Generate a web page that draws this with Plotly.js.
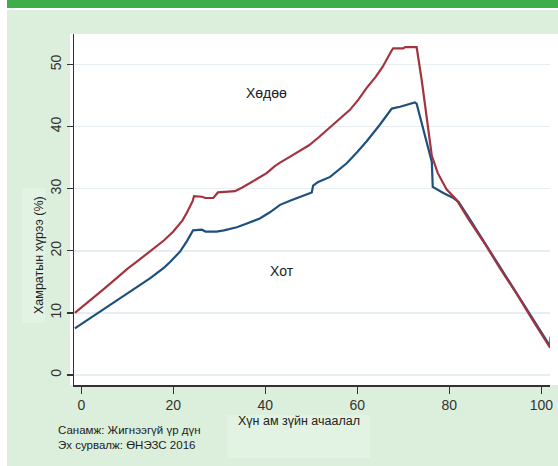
<!DOCTYPE html>
<html>
<head>
<meta charset="utf-8">
<script src="https://cdn.plot.ly/plotly-3.0.1.min.js"></script>
<style>html,body{margin:0;padding:0;background:#fff;}#chart{width:558px;height:466px;}</style>
</head>
<body>
<div id="chart"></div>
<script>
// ---- data ----
const ruralName = "Хөдөө";
const ruralX = [-1.4, 2, 5, 8, 10, 12, 15, 18, 20, 22, 23, 24.2, 24.5, 26.2, 27, 28.7, 29.7, 31, 33.4, 35, 36.7, 38.5, 40.3, 42, 43.2, 45.5, 47.6, 49.5, 51.5, 53, 54.8, 56.5, 58.4, 60.2, 62, 64, 65.5, 67.5, 67.8, 70.0, 70.4, 72.9, 74.0, 76.2, 77.5, 79.4, 81.6, 84, 88.1, 91, 94.7, 98, 101.9, 102.0];
const ruralY = [10.0, 12.0, 13.9, 15.8, 17.1, 18.2, 19.9, 21.7, 23.1, 24.9, 26.2, 28.0, 28.8, 28.7, 28.5, 28.5, 29.4, 29.5, 29.6, 30.2, 30.9, 31.7, 32.5, 33.6, 34.2, 35.2, 36.2, 37.0, 38.2, 39.2, 40.3, 41.5, 42.7, 44.3, 46.2, 48.0, 49.6, 52.3, 52.6, 52.6, 52.8, 52.8, 47.5, 35.3, 32.5, 29.9, 28.2, 25.3, 20.7, 17.2, 13.0, 9.0, 4.4, 6.2];

const urbanName = "Хот";
const urbanX = [-1.4, 2, 5, 8, 10, 12, 15, 18, 19.3, 21.5, 23, 24.3, 26.2, 27, 29.4, 31, 33.8, 36, 38.8, 41, 43.2, 45.5, 47.6, 50.1, 50.4, 51.5, 54.1, 56, 57.7, 60, 62, 64.9, 67.5, 69.3, 71, 72.5, 72.9, 76.2, 76.4, 78.7, 80.9, 82, 84.1, 88, 91, 94.7, 98, 101.6];
const urbanY = [7.5, 9.2, 10.7, 12.2, 13.2, 14.2, 15.6, 17.3, 18.2, 19.9, 21.6, 23.3, 23.4, 23.1, 23.1, 23.3, 23.8, 24.4, 25.2, 26.2, 27.4, 28.1, 28.7, 29.4, 30.5, 31.1, 31.9, 33.0, 34.1, 35.9, 37.6, 40.3, 42.9, 43.2, 43.6, 43.9, 43.7, 34.3, 30.3, 29.3, 28.5, 27.9, 25.5, 20.9, 17.3, 13.1, 9.2, 5.0];

const xTickVals = [0, 20, 40, 60, 80, 100];
const yTickVals = [0, 10, 20, 30, 40, 50];
const xTitle = "Хүн ам зүйн ачаалал";
const yTitle = "Хамратын хүрээ (%)";
const noteLines = ["Санамж: Жигнээгүй үр дүн", "Эх сурвалж: ӨНЭЗС 2016"];

// ---- layout geometry (pixels) ----
const W = 558, H = 466;
const L = 74, R = 8, T = 34, B = 81;
const PW = W - L - R, PH = H - T - B;
const px = v => (v - L) / PW;
const py = v => (H - B - v) / PH;

const font = "Liberation Sans, Arial, sans-serif";

const traces = [
  {x: urbanX, y: urbanY, name: urbanName, mode: "lines", line: {color: "#1f4f7e", width: 2.2}},
  {x: ruralX, y: ruralY, name: ruralName, mode: "lines", line: {color: "#a3343f", width: 2.2}}
];

const rect = (x0, y0, x1, y1, c) => ({type: "rect", xref: "paper", yref: "paper", layer: "below",
  x0: px(x0), x1: px(x1), y0: py(y1), y1: py(y0), fillcolor: c, line: {width: 0}});

const layout = {
  width: W, height: H,
  margin: {l: L, r: R, t: T, b: B, pad: 0},
  paper_bgcolor: "#ffffff",
  plot_bgcolor: "rgba(0,0,0,0)",
  showlegend: false,
  font: {family: font, color: "#333"},
  xaxis: {
    range: [(L - 81.3) / 4.6, (W - R - 81.3) / 4.6],
    tickvals: xTickVals, ticks: "outside", ticklen: 7, tickwidth: 1.3, tickcolor: "#333",
    showline: true, linecolor: "#333", linewidth: 1.5, showgrid: false, zeroline: false,
    tickfont: {size: 14, color: "#333", family: font},
    title: {text: ""}
  },
  yaxis: {
    range: [(375 - 385) / 6.21, (375 - 34) / 6.21],
    tickvals: yTickVals, ticks: "outside", ticklen: 6, tickwidth: 1.3, tickcolor: "#333",
    tickangle: -90,
    showline: true, linecolor: "#333", linewidth: 1.5,
    showgrid: true, gridcolor: "#e6eef1", gridwidth: 1.5, zeroline: false,
    tickfont: {size: 14, color: "#333", family: font},
    title: {text: ""}
  },
  shapes: [
    rect(7, 10, 558, 466, "#dbefdc"),
    rect(7, 0, 558, 8, "#3eae4b"),
    rect(22, 188, 45, 323, "#e2f3e3"),
    rect(227, 415, 370, 458, "#e2f3e3"),
    rect(70, 34, 558, 385, "#ffffff")
  ],
  annotations: [
    {x: 40.3, y: 45.4, xref: "x", yref: "y", text: ruralName, showarrow: false,
     font: {size: 14, color: "#222", family: font}},
    {x: 43.7, y: 16.8, xref: "x", yref: "y", text: urbanName, showarrow: false,
     font: {size: 14, color: "#222", family: font}},
    {x: px(299), y: py(430), xref: "paper", yref: "paper", text: xTitle, showarrow: false,
     font: {size: 12.5, color: "#222", family: font}},
    {x: px(30), y: py(255), xref: "paper", yref: "paper", text: yTitle, showarrow: false, textangle: -90,
     font: {size: 12.5, color: "#222", family: font}},
    {x: px(56), y: py(438), xref: "paper", yref: "paper", xanchor: "left", text: noteLines[0], showarrow: false,
     font: {size: 11.5, color: "#222", family: font}},
    {x: px(56), y: py(453), xref: "paper", yref: "paper", xanchor: "left", text: noteLines[1], showarrow: false,
     font: {size: 11.5, color: "#222", family: font}}
  ]
};

Plotly.newPlot("chart", traces, layout, {displayModeBar: false, staticPlot: true});
</script>
</body>
</html>
